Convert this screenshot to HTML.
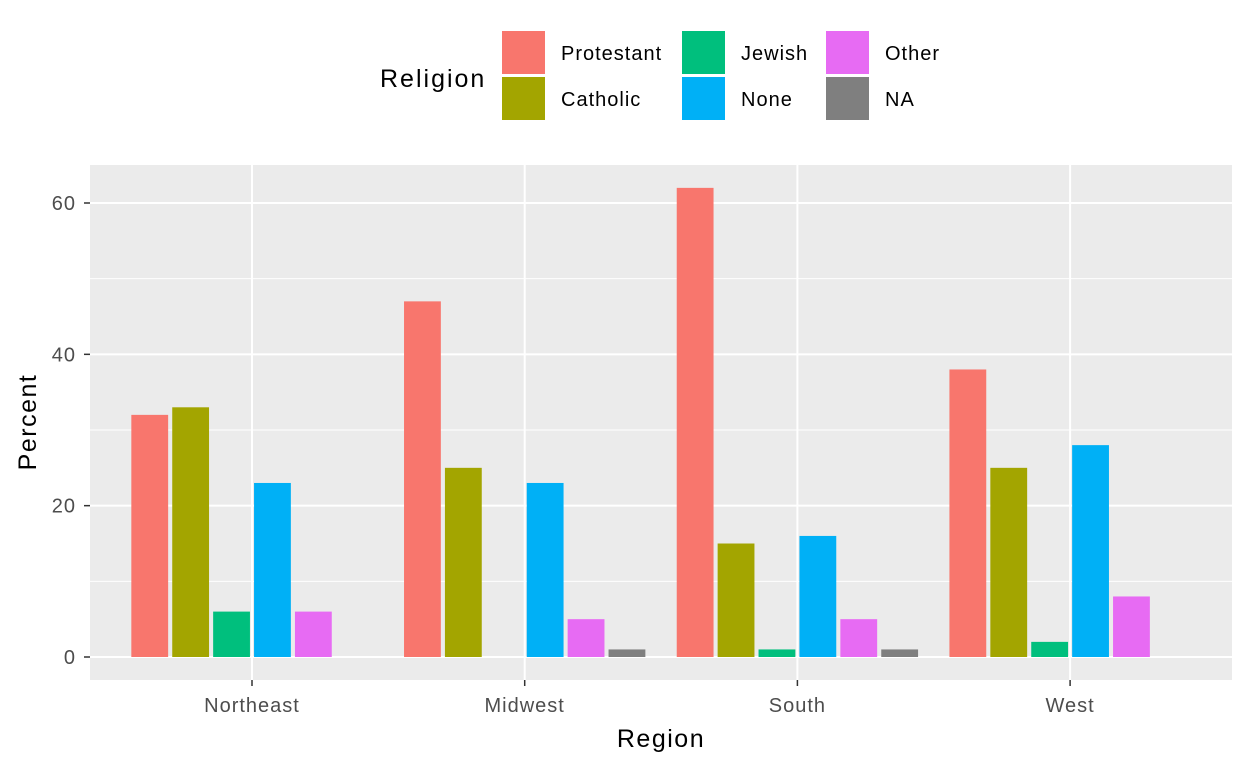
<!DOCTYPE html>
<html><head><meta charset="utf-8"><style>
body{margin:0;background:#fff;}
svg{display:block;font-family:"Liberation Sans",Arial,sans-serif;}
</style></head><body>
<svg id="chart" width="1248" height="768">
<rect x="90" y="165" width="1142" height="515" fill="#EBEBEB"/>
<g id="grid"></g><g id="bars"></g><g id="axes"></g>
<g>
<text x="380" y="87" font-size="25" letter-spacing="2" fill="#000">Religion</text>
<g id="legend"></g>
</g>
<text transform="translate(36,422) rotate(-90)" text-anchor="middle" font-size="25" letter-spacing="1.5" fill="#000">Percent</text>
<text x="661" y="747" text-anchor="middle" font-size="25" letter-spacing="1.5" fill="#000">Region</text>
</svg>
<script>
const categories=["Northeast","Midwest","South","West"];
const series=["Protestant","Catholic","Jewish","None","Other","NA"];
const colors=["#F8766D","#A3A500","#00BF7D","#00B0F6","#E76BF3","#7F7F7F"];
const protestant=[32,47,62,38];
const catholic=[33,25,15,25];
const jewish=[6,null,1,2];
const none=[23,23,16,28];
const other=[6,5,5,8];
const na=[null,1,1,null];
const yTicks=[0,20,40,60];
const yMinor=[10,30,50];
const values=[protestant,catholic,jewish,none,other,na];
const NS="http://www.w3.org/2000/svg";
function y(v){return 657-v*(657-203)/60;}
function xc(i){return 252+i*272.7;}
function mk(tag,attrs,parent){const e=document.createElementNS(NS,tag);for(const k in attrs)e.setAttribute(k,attrs[k]);document.getElementById(parent).appendChild(e);return e;}
yMinor.forEach(v=>{const l=mk('line',{x1:90,x2:1232,y1:y(v),y2:y(v),stroke:'#fff','stroke-width':1},'grid');

});
yTicks.forEach(v=>{const l=mk('line',{x1:90,x2:1232,y1:y(v),y2:y(v),stroke:'#fff','stroke-width':2},'grid');


const t=mk('text',{x:76,y:y(v)+7,'text-anchor':'end','font-size':20,'letter-spacing':1,fill:'#4D4D4D'},'axes');t.textContent=v;


const tk=mk('line',{x1:84,x2:90,y1:y(v),y2:y(v),stroke:'#333','stroke-width':1.5},'axes');

});
categories.forEach((c,i)=>{const l=mk('line',{x1:xc(i),x2:xc(i),y1:165,y2:680,stroke:'#fff','stroke-width':2},'grid');


const t=mk('text',{x:xc(i),y:712,'text-anchor':'middle','font-size':20,'letter-spacing':1,fill:'#4D4D4D'},'axes');t.textContent=c;


const tk=mk('line',{x1:xc(i),x2:xc(i),y1:680,y2:686,stroke:'#333','stroke-width':1.5},'axes');


const slot=272.7*0.9/6;
values.forEach((arr,s)=>{const v=arr[i];if(v==null)return;
const x0=xc(i)-272.7*0.45+s*slot+slot*0.05;
const r=mk('rect',{x:x0,y:y(v),width:slot*0.9,height:y(0)-y(v),fill:colors[s]},'bars');

});});
const lx=[502,682,826];
series.forEach((s,k)=>{const col=Math.floor(k/2),row=k%2;
const r=mk('rect',{x:lx[col],y:31+row*46,width:43,height:43,fill:colors[k]},'legend');


const t=mk('text',{x:lx[col]+59,y:60+row*46,'font-size':20,'letter-spacing':1,fill:'#000'},'legend');t.textContent=s;

});
</script>
</body></html>
